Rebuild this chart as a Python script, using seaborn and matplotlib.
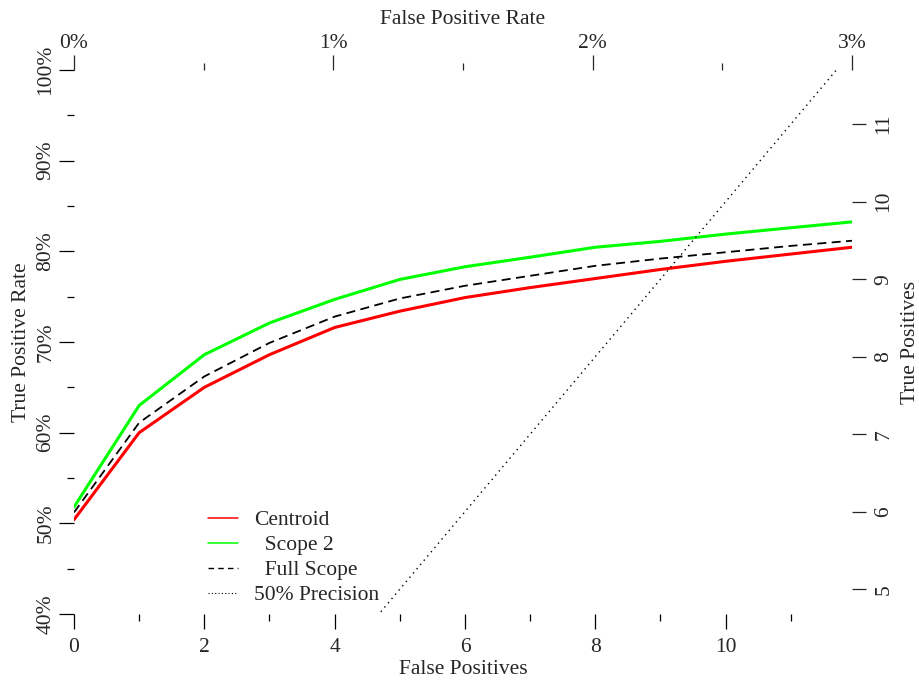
import numpy as np
import matplotlib
matplotlib.use("Agg")
import matplotlib.pyplot as plt
from matplotlib.lines import Line2D
from matplotlib.ticker import PercentFormatter, FuncFormatter
import seaborn as sns

# values (true positive rate in %)
false_pos = [0, 1, 2, 3, 4, 5, 6, 7, 8, 9, 10, 11, 11.94]
centroid = [50.4, 60.0, 65.0, 68.6, 71.6, 73.4, 74.9, 76.0, 77.0, 78.0, 78.9, 79.7, 80.45]
scope2 = [51.8, 63.0, 68.6, 72.1, 74.7, 76.9, 78.3, 79.35, 80.45, 81.1, 81.9, 82.6, 83.25]
full_scope = [51.2, 61.1, 66.2, 69.9, 72.8, 74.8, 76.2, 77.3, 78.4, 79.2, 79.9, 80.6, 81.17]
n_neg = 398
n_pos = 11.7

labels = ["Centroid", "  Scope 2", "  Full Scope", "50% Precision"]
colors = ["#ff0000", "#00ff00", "black", "black"]

sns.set_style("white")
plt.rcParams["font.family"] = ["Liberation Serif", "DejaVu Serif"]
fs = 15.5

fig = plt.figure(figsize=(9.19, 6.83), dpi=100)
ax = fig.add_axes([74 / 919, 69 / 683, 778 / 919, 544 / 683])

sns.lineplot(x=false_pos, y=np.array(centroid) / 100, color=colors[0], lw=2.2, ax=ax)
sns.lineplot(x=false_pos, y=np.array(scope2) / 100, color=colors[1], lw=2.2, ax=ax)
sns.lineplot(x=false_pos, y=np.array(full_scope) / 100, color=colors[2], lw=1.3,
             dashes=False, linestyle=(0, (5, 3)), ax=ax)
# 50% precision: TP == FP
prec_fp = np.array([0, n_pos])
sns.lineplot(x=prec_fp, y=prec_fp / n_pos, color=colors[3], lw=1.0,
             linestyle=(0, (1, 3)), ax=ax)

ax.set_xlim(0, n_neg * 0.03)
ax.set_ylim(0.4, 1.0)
for s in ax.spines.values():
    s.set_visible(False)

ax.set_xticks([0, 2, 4, 6, 8, 10])
ax.set_xticks([1, 3, 5, 7, 9, 11], minor=True)
ax.set_yticks([0.4, 0.5, 0.6, 0.7, 0.8, 0.9, 1.0])
ax.set_yticks([0.45, 0.55, 0.65, 0.75, 0.85, 0.95], minor=True)
ax.yaxis.set_major_formatter(PercentFormatter(xmax=1, decimals=0))
ax.tick_params(which="both", bottom=True, left=True, top=False, right=False)
ax.tick_params(which="major", direction="out", length=10.5, width=0.9, labelsize=fs, color="black")
ax.tick_params(which="minor", direction="out", length=5, width=0.9, color="black")
ax.tick_params(axis="x", pad=6.5)
ax.tick_params(axis="y", pad=3)
for t in ax.get_yticklabels():
    t.set_rotation(90)
    t.set_va("center")

ax.set_xlabel("False Positives", fontsize=fs, va="center")
ax.xaxis.set_label_coords(0.5, -55 / 544)
ax.set_ylabel("True Positive Rate", fontsize=fs, va="center")
ax.yaxis.set_label_coords(-52 / 778, 0.5)

# top axis: false positive rate
top = ax.secondary_xaxis("top", functions=(lambda x: x / n_neg * 100, lambda r: r * n_neg / 100))
top.set_xticks([0, 1, 2, 3])
top.set_xticks([0.5, 1.5, 2.5], minor=True)
top.xaxis.set_major_formatter(FuncFormatter(lambda v, p: f"{v:.0f}%"))
top.tick_params(which="both", top=True, bottom=False)
top.tick_params(which="major", direction="out", length=10.5, width=0.9, labelsize=fs, pad=2)
top.tick_params(which="minor", direction="out", length=5, width=0.9)
top.set_xlabel("False Positive Rate", fontsize=fs, labelpad=7)
for s in top.spines.values():
    s.set_visible(False)

# right axis: true positives
right = ax.secondary_yaxis("right", functions=(lambda y: y * n_pos, lambda t: t / n_pos))
right.set_yticks([5, 6, 7, 8, 9, 10, 11])
right.tick_params(which="both", right=True, left=False)
right.tick_params(which="major", direction="out", length=10, width=0.9, labelsize=fs, pad=6)
for t in right.get_yticklabels():
    t.set_rotation(90)
    t.set_va("center")
right.set_ylabel("True Positives", fontsize=fs, rotation=90, labelpad=5.5)
for s in right.spines.values():
    s.set_visible(False)

handles = [
    Line2D([], [], color=colors[0], lw=1.1),
    Line2D([], [], color=colors[1], lw=1.1),
    Line2D([], [], color=colors[2], lw=1.0, linestyle=(0, (4, 3))),
    Line2D([], [], color=colors[3], lw=0.8, linestyle=(0, (1, 2))),
]
ax.legend(handles, labels, loc="upper left", bbox_to_anchor=(208 / 919, (683 - 510) / 683),
          bbox_transform=fig.transFigure, frameon=False, fontsize=fs, handlelength=1.4,
          handletextpad=0.75, labelspacing=0.23, borderpad=0, borderaxespad=0)

fig.savefig("out.png", dpi=100)
